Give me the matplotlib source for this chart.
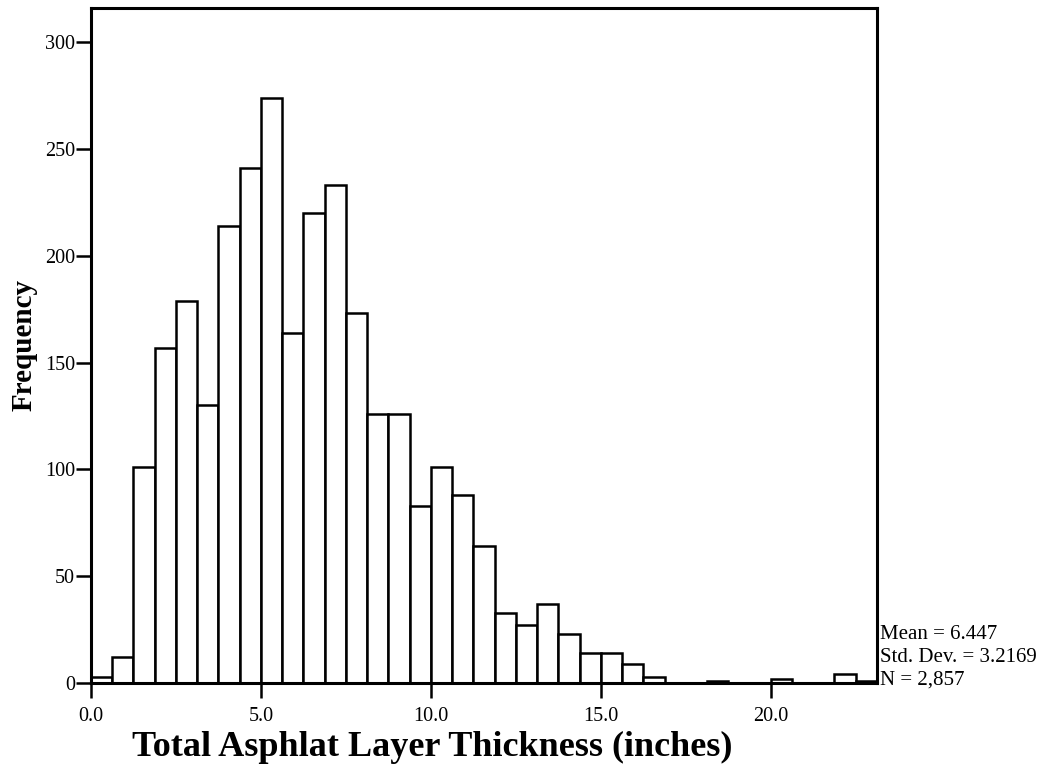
import matplotlib
matplotlib.use('Agg')
import matplotlib.pyplot as plt
import numpy as np

# histogram counts, bins of 0.625 inch starting at 0
counts = [3, 12, 101, 157, 179, 130, 214, 241, 274, 164, 220, 233, 173, 126, 126,
          83, 101, 88, 64, 33, 27, 37, 23, 14, 14, 9, 3, 0, 0, 1, 0, 0, 2, 0, 0, 4, 1]
bin_width = 0.625
bin_starts = [i * bin_width for i in range(len(counts))]

x_ticks = [0.0, 5.0, 10.0, 15.0, 20.0]
y_ticks = [0, 50, 100, 150, 200, 250, 300]
stats_lines = ["Mean = 6.447", "Std. Dev. = 3.2169", "N = 2,857"]

plt.rcParams['font.family'] = ['Liberation Serif', 'DejaVu Serif']

fig = plt.figure(figsize=(10.48, 7.69), dpi=100)
ax = fig.add_axes([0.0868, 0.1118, 0.75, 0.878])

ax.bar(bin_starts, counts, width=bin_width, align='edge',
       facecolor='white', edgecolor='black', linewidth=1.8)

ax.set_xlim(0, len(counts) * bin_width)
ax.set_ylim(0, 316)

ax.set_xticks(x_ticks)
ax.set_xticklabels(["%.1f" % t for t in x_ticks])
ax.set_yticks(y_ticks)
ax.tick_params(axis='both', direction='out', length=11, width=1.8, labelsize=14.5)
ax.tick_params(axis='x', pad=6)
ax.tick_params(axis='y', pad=0.5)

for s in ax.spines.values():
    s.set_linewidth(2.2)

# the x title sits a bit left of the axes centre, as in the original
ax.set_xlabel("Total Asphlat Layer Thickness (inches)", fontsize=26, fontweight='bold',
              labelpad=4, x=0.434)
ax.set_ylabel("Frequency", fontsize=21, fontweight='bold', labelpad=5)

ax.annotate("\n".join(stats_lines), xy=(1.0, 0.0), xycoords='axes fraction',
            xytext=(2, -5), textcoords='offset points',
            ha='left', va='bottom', fontsize=15, linespacing=1.27)

fig.savefig('out.png', dpi=100)
